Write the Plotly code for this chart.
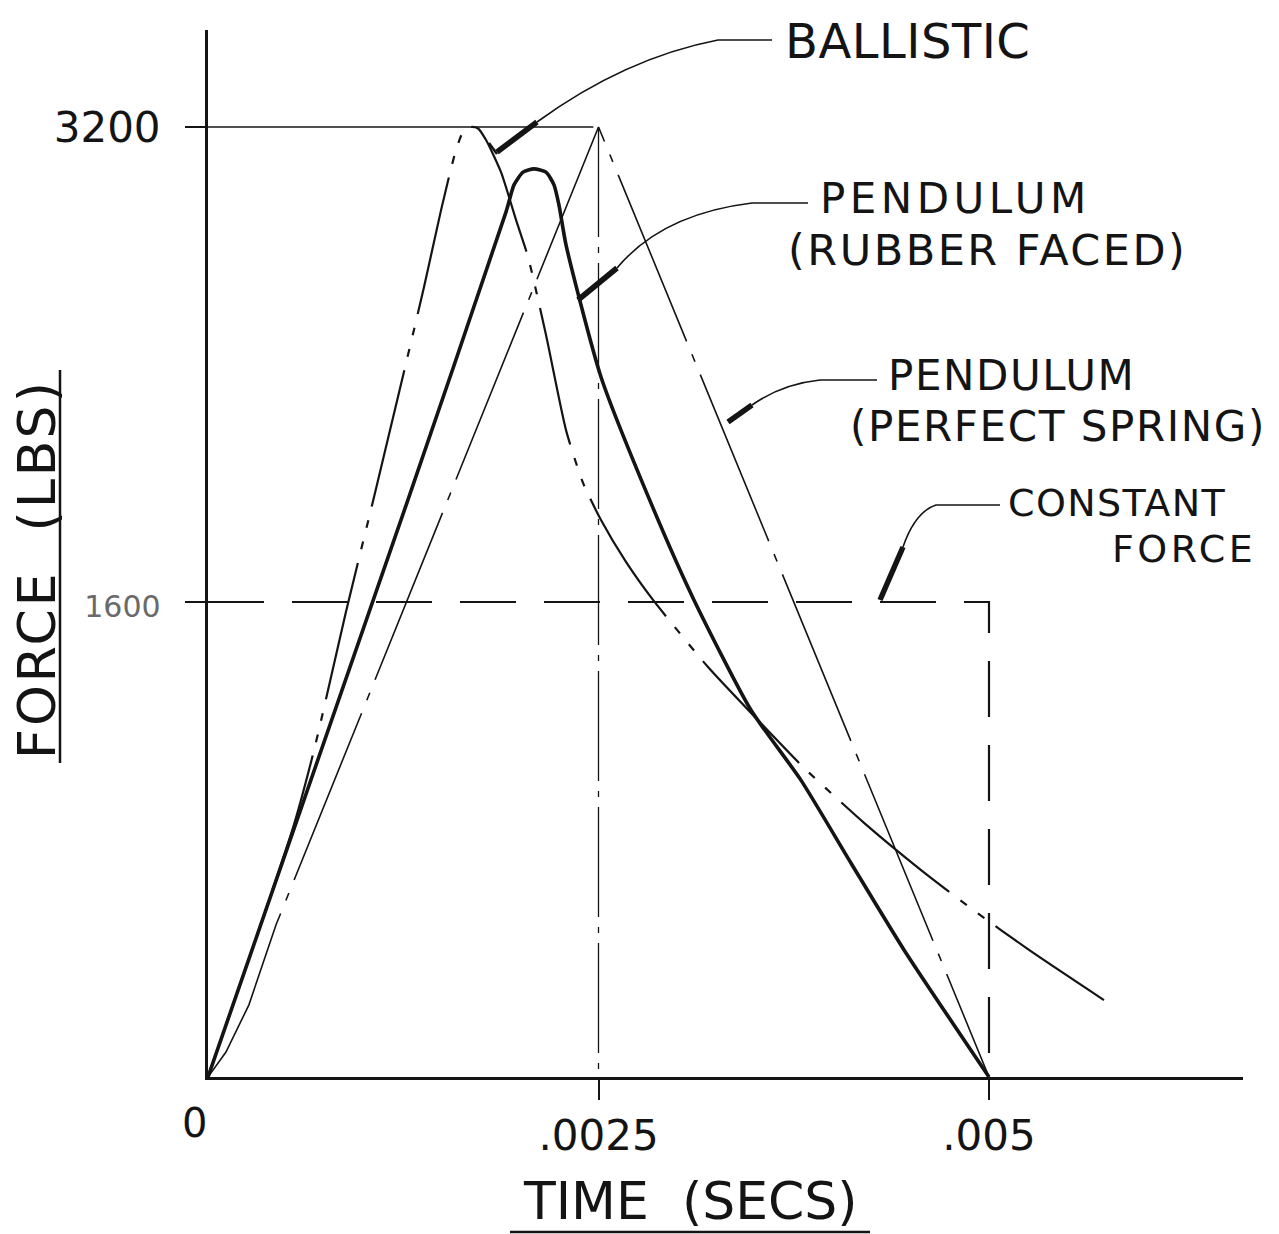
import plotly.graph_objects as go

# ---------------- data (time in seconds, force in lbs) ----------------
ballistic_t = [0, 0.000544, 0.000679, 0.000883, 0.001069, 0.001383, 0.001492, 0.001588,
               0.001639, 0.001684, 0.001729, 0.00178, 0.001876, 0.001972, 0.002049,
               0.002164, 0.002292, 0.002401, 0.002516, 0.002676, 0.002849, 0.003201,
               0.003508, 0.003816, 0.0042, 0.004565, 0.004898, 0.005256, 0.005736]
ballistic_f = [0, 839, 1101, 1566, 1967, 2661, 2920, 3123,
               3190, 3200, 3195, 3156, 3048, 2887, 2762,
               2499, 2179, 2001, 1876, 1735, 1607, 1381,
               1209, 1041, 856, 697, 563, 428, 259]

rubber_t = [0, 0.00128, 0.001908, 0.001959, 0.002017, 0.002087, 0.002164, 0.002215,
            0.002247, 0.002292, 0.002516, 0.002836, 0.003111, 0.003476, 0.003796,
            0.004116, 0.004456, 0.005]
rubber_f = [0, 1944, 2914, 3005, 3048, 3059, 3048, 3005,
            2937, 2803, 2358, 1933, 1607, 1236, 1000,
            721, 428, 0]

spring_t = [0, 0.000115, 0.000262, 0.000435, 0.0025, 0.005]
spring_f = [0, 84, 243, 512, 3200, 0]

constant_t = [0, 0.005, 0.005]
constant_f = [1600, 1600, 0]

x_tick_values = [0, 0.0025, 0.005]
x_tick_labels = ["0", ".0025", ".005"]
y_tick_values = [1600, 3200]
y_tick_labels = ["1600", "3200"]

x_title_words = ["TIME", "(SECS)"]
y_title_words = ["FORCE", "(LBS)"]

# ---------------- layout geometry ----------------
W, H = 1279, 1234
L, R, T, B = 208, 1243, 30, 1077          # plot-area pixel bounds
PX_PER_S = 156200.0
PX_PER_LB = 950.0 / 3200.0
x_max = (R - L) / PX_PER_S
y_max = (B - T) / PX_PER_LB


def px(x):
    return (x - L) / (R - L)


def py(y):
    return (B - y) / (B - T)


FONT = "DejaVu Sans"
INK = "#141414"

fig = go.Figure()

# reference lines derived from the perfect-spring peak
peak = max(spring_f)
t_peak = spring_t[spring_f.index(peak)]
fig.add_trace(go.Scatter(x=[0, t_peak * 0.987], y=[peak, peak], mode="lines",
                         line=dict(color=INK, width=1.4), hoverinfo="skip", showlegend=False))
fig.add_trace(go.Scatter(x=[t_peak, t_peak], y=[peak, 0], mode="lines",
                         line=dict(color=INK, width=1.3, dash="110px,10px,6px,10px"),
                         hoverinfo="skip", showlegend=False))

# constant force
fig.add_trace(go.Scatter(x=constant_t, y=constant_f, mode="lines", name="Constant force",
                         line=dict(color=INK, width=2.2, dash="56px,28px"), showlegend=False))
# pendulum (perfect spring)
fig.add_trace(go.Scatter(x=spring_t, y=spring_f, mode="lines", name="Pendulum (perfect spring)",
                         line=dict(color=INK, width=1.6, dash="180px,14px,8px,14px"),
                         showlegend=False))
# ballistic
fig.add_trace(go.Scatter(x=ballistic_t, y=ballistic_f, mode="lines", name="Ballistic",
                         line=dict(color=INK, width=2.2, shape="spline", smoothing=0.6,
                                   dash="140px,14px,8px,14px,8px,14px"),
                         showlegend=False))
# pendulum (rubber faced)
fig.add_trace(go.Scatter(x=rubber_t, y=rubber_f, mode="lines", name="Pendulum (rubber faced)",
                         line=dict(color=INK, width=3.6, shape="spline", smoothing=0.6),
                         showlegend=False))


def spaced(text, ls):
    return f"<span style='letter-spacing:{ls}px'>{text}</span>"


annotations = []
# curve labels: text, x px, y px (centre), font size, anchor, letter spacing
curve_labels = [
    ("BALLISTIC", 783, 41, 48, "left", 0.5),
    ("PENDULUM", 818, 198, 42, "left", 4.5),
    ("(RUBBER\u00a0FACED)", 786, 250, 43, "left", 2.5),
    ("PENDULUM", 886, 375, 42, "left", 1.6),
    ("(PERFECT\u00a0SPRING)", 848, 427, 42, "left", 1.6),
    ("CONSTANT", 1006, 503, 38, "left", 1.4),
    ("FORCE", 1258, 549, 38, "right", 3.5),
]
for text, x, y, size, anchor, ls in curve_labels:
    annotations.append(dict(text=spaced(text, ls), x=px(x), y=py(y), xref="paper",
                            yref="paper", xanchor=anchor, yanchor="middle", showarrow=False,
                            font=dict(family=FONT, size=size, color=INK)))

# axis titles
annotations.append(dict(text=x_title_words[0] + "\u00a0\u00a0" + x_title_words[1],
                        x=px(690), y=py(1201), xref="paper", yref="paper",
                        xanchor="center", yanchor="middle", showarrow=False,
                        font=dict(family=FONT, size=52, color=INK)))
annotations.append(dict(text=spaced(y_title_words[0] + "\u00a0\u00a0" + y_title_words[1], 3),
                        x=px(37), y=py(569), xref="paper", yref="paper", textangle=-90,
                        xanchor="center", yanchor="middle", showarrow=False,
                        font=dict(family=FONT, size=52, color=INK)))
# "0" label at the origin
annotations.append(dict(text=x_tick_labels[0], x=x_tick_values[0], y=py(1123), xref="x",
                        yref="paper", xanchor="center", yanchor="middle", xshift=-14,
                        showarrow=False, font=dict(family=FONT, size=40, color=INK)))


def path(points, cmd):
    parts = []
    for c, pts in zip(cmd, points):
        parts.append(c + " " + " ".join(f"{px(a):.5f},{py(b):.5f}" for a, b in pts))
    return " ".join(parts)


shapes = []
thin = dict(color=INK, width=1.6)
thick = dict(color=INK, width=5.5)
# leaders
leaders = [
    # (thin path, thick segment)
    ([[(772, 40)], [(718, 40)], [(625, 58), (537, 122)]], [(537, 122), (497, 152)]),
    ([[(808, 203)], [(752, 203)], [(662, 214), (617, 268)]], [(617, 268), (578, 300)]),
    ([[(877, 380)], [(820, 380)], [(782, 384), (752, 405)]], [(752, 405), (728, 422)]),
    ([[(1000, 505)], [(936, 505)], [(915, 512), (903, 547)]], [(903, 547), (880, 600)]),
]
for thin_pts, thick_seg in leaders:
    shapes.append(dict(type="path", xref="paper", yref="paper",
                       path=path(thin_pts, ["M", "L", "Q"]), line=thin))
    shapes.append(dict(type="line", xref="paper", yref="paper",
                       x0=px(thick_seg[0][0]), y0=py(thick_seg[0][1]),
                       x1=px(thick_seg[1][0]), y1=py(thick_seg[1][1]), line=thick))
# small hook at the ballistic pointer
shapes.append(dict(type="line", xref="paper", yref="paper", x0=px(497), y0=py(154),
                   x1=px(489), y1=py(143), line=dict(color=INK, width=2.5)))
# underlines of axis titles
shapes.append(dict(type="line", xref="paper", yref="paper", x0=px(510), y0=py(1232),
                   x1=px(870), y1=py(1232), line=dict(color=INK, width=2.5)))
shapes.append(dict(type="line", xref="paper", yref="paper", x0=px(60), y0=py(370),
                   x1=px(60), y1=py(763), line=dict(color=INK, width=2.5)))

y_ticktext = [f"<span style='font-size:30px;color:#6a6a6a'>{y_tick_labels[0]}</span>",
              y_tick_labels[1]]

fig.update_layout(
    width=W, height=H,
    margin=dict(l=L, r=W - R, t=T, b=H - B, pad=0),
    paper_bgcolor="white", plot_bgcolor="white",
    showlegend=False,
    font=dict(family=FONT, color=INK),
    xaxis=dict(range=[0, x_max], showline=True, linecolor=INK, linewidth=3,
               showgrid=False, zeroline=False, ticks="outside", ticklen=20,
               tickwidth=1.5, tickcolor=INK, tickvals=x_tick_values[1:],
               ticktext=x_tick_labels[1:], tickfont=dict(family=FONT, size=42, color=INK),
               ticklabelstandoff=0),
    yaxis=dict(range=[0, y_max], showline=True, linecolor=INK, linewidth=3,
               showgrid=False, zeroline=False, ticks="outside", ticklen=20,
               tickwidth=2, tickcolor=INK, tickvals=y_tick_values, ticktext=y_ticktext,
               tickfont=dict(family=FONT, size=42, color=INK), ticklabelstandoff=16),
    annotations=annotations,
    shapes=shapes,
)

fig.write_html("out.html", config={"displayModeBar": False},
               post_script="document.body.style.margin='0';document.body.style.overflow='hidden';")
